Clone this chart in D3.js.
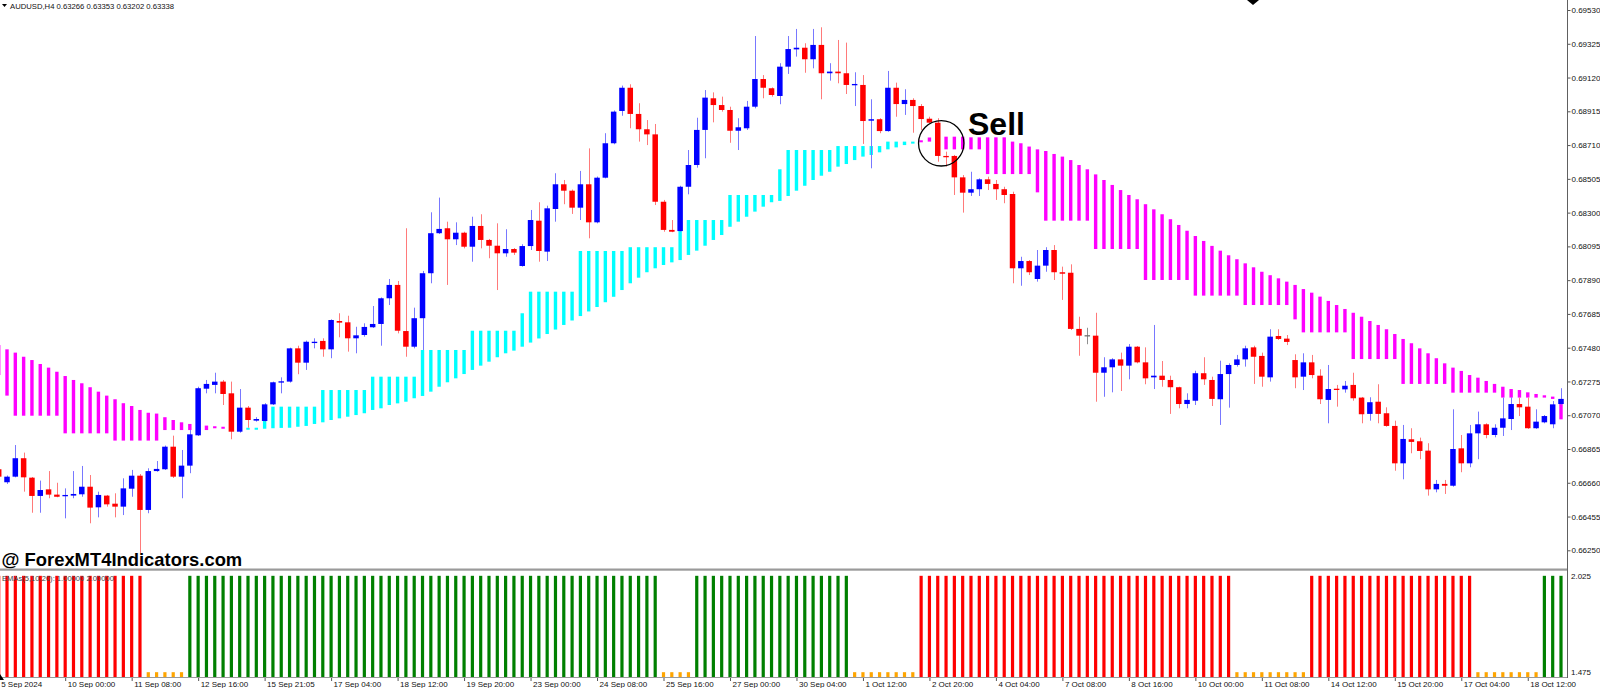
<!DOCTYPE html>
<html>
<head>
<meta charset="utf-8">
<script src="https://cdn.jsdelivr.net/npm/d3@7/dist/d3.min.js"></script>
<style>
  html, body { margin: 0; padding: 0; background: #fff; }
  svg { display: block; }
  text { font-family: "Liberation Sans", Arial, sans-serif; }
</style>
</head>
<body>
<svg id="chart"></svg>
<script>
// AUDUSD H4 candles (one entry per bar, left to right)
const open = [0.66742,0.66663,0.66697,0.66809,0.66691,0.66580,0.66620,0.66588,0.66578,0.66582,
  0.66590,0.66636,0.66511,0.66582,0.66533,0.66515,0.66624,0.66703,0.66495,0.66731,
  0.66742,0.66879,0.66697,0.66764,0.66948,0.67231,0.67254,0.67274,0.67203,0.66970,
  0.67116,0.67037,0.67035,0.67136,0.67268,0.67274,0.67476,0.67389,0.67510,0.67521,
  0.67470,0.67642,0.67634,0.67537,0.67557,0.67604,0.67624,0.67780,0.67861,0.67581,
  0.67486,0.67659,0.67932,0.68175,0.68205,0.68138,0.68178,0.68093,0.68219,0.68134,
  0.68099,0.68053,0.68079,0.67976,0.68097,0.68251,0.68063,0.68322,0.68472,0.68433,
  0.68330,0.68472,0.68241,0.68512,0.68721,0.68917,0.69058,0.68899,0.68806,0.68775,
  0.68366,0.68195,0.68188,0.68457,0.68589,0.68802,0.68994,0.68953,0.68923,0.68797,
  0.68812,0.68943,0.69111,0.69055,0.69008,0.69186,0.69291,0.69301,0.69231,0.69318,
  0.69146,0.69156,0.69146,0.69073,0.69075,0.68858,0.68867,0.68795,0.69058,0.68959,
  0.68984,0.68947,0.68870,0.68846,0.68644,0.68644,0.68514,0.68421,0.68442,0.68502,
  0.68474,0.68442,0.68413,0.67962,0.68006,0.67897,0.67978,0.68073,0.67938,0.67935,
  0.67594,0.67556,0.67553,0.67328,0.67361,0.67409,0.67371,0.67486,0.67391,0.67300,
  0.67310,0.67284,0.67240,0.67138,0.67158,0.67325,0.67284,0.67167,0.67320,0.67375,
  0.67409,0.67482,0.67430,0.67300,0.67551,0.67535,0.67405,0.67304,0.67391,0.67310,
  0.67163,0.67231,0.67227,0.67254,0.67177,0.67078,0.67152,0.67082,0.67005,0.66778,
  0.66924,0.66912,0.66855,0.66620,0.66653,0.66642,0.66869,0.66778,0.66960,0.67015,
  0.66950,0.66994,0.67047,0.67138,0.67122,0.66991,0.67027,0.67015,0.67138];

const high = [0.66756,0.66704,0.66889,0.66843,0.66695,0.66673,0.66731,0.66660,0.66626,0.66731,
  0.66762,0.66707,0.66606,0.66586,0.66596,0.66687,0.66738,0.66713,0.66748,0.66792,
  0.66886,0.66946,0.66859,0.66980,0.67243,0.67284,0.67328,0.67284,0.67274,0.67229,
  0.67126,0.67058,0.67143,0.67274,0.67300,0.67480,0.67492,0.67523,0.67537,0.67537,
  0.67652,0.67689,0.67674,0.67607,0.67628,0.67733,0.67785,0.67897,0.67885,0.68205,
  0.67723,0.67946,0.68302,0.68391,0.68245,0.68241,0.68184,0.68275,0.68290,0.68140,
  0.68235,0.68199,0.68085,0.68108,0.68316,0.68363,0.68342,0.68539,0.68498,0.68440,
  0.68553,0.68690,0.68519,0.68782,0.68920,0.69071,0.69079,0.68964,0.68862,0.68838,
  0.68377,0.68255,0.68463,0.68680,0.68876,0.69044,0.69030,0.69004,0.68943,0.68873,
  0.68978,0.69372,0.69135,0.69060,0.69207,0.69372,0.69415,0.69328,0.69415,0.69425,
  0.69207,0.69348,0.69332,0.69152,0.69135,0.68988,0.68873,0.69160,0.69089,0.69049,
  0.68994,0.68959,0.68882,0.68873,0.68670,0.68650,0.68528,0.68548,0.68508,0.68518,
  0.68498,0.68457,0.68427,0.68032,0.68012,0.68073,0.68090,0.68103,0.67972,0.67986,
  0.67668,0.67601,0.67692,0.67422,0.67416,0.67450,0.67502,0.67490,0.67482,0.67618,
  0.67399,0.67310,0.67243,0.67203,0.67340,0.67422,0.67304,0.67401,0.67385,0.67436,
  0.67492,0.67492,0.67450,0.67592,0.67592,0.67557,0.67440,0.67446,0.67436,0.67349,
  0.67375,0.67254,0.67278,0.67328,0.67181,0.67179,0.67258,0.67118,0.67037,0.67011,
  0.66991,0.66934,0.66900,0.66677,0.66677,0.67106,0.66950,0.67011,0.67092,0.67021,
  0.67015,0.67177,0.67179,0.67177,0.67177,0.67106,0.67071,0.67156,0.67234];

const low = [0.66689,0.66653,0.66693,0.66606,0.66478,0.66478,0.66566,0.66572,0.66444,0.66566,
  0.66575,0.66414,0.66450,0.66515,0.66450,0.66464,0.66575,0.66234,0.66475,0.66727,
  0.66738,0.66689,0.66566,0.66718,0.66944,0.67203,0.67203,0.67132,0.66924,0.66964,
  0.66994,0.67031,0.67031,0.67132,0.67203,0.67268,0.67319,0.67345,0.67476,0.67425,
  0.67416,0.67543,0.67456,0.67446,0.67547,0.67600,0.67492,0.67739,0.67567,0.67425,
  0.67476,0.67466,0.67871,0.68170,0.67861,0.68103,0.68083,0.68002,0.68083,0.68023,
  0.67830,0.68032,0.68043,0.67972,0.68073,0.68002,0.68006,0.68245,0.68351,0.68292,
  0.68255,0.68144,0.68235,0.68508,0.68715,0.68888,0.68812,0.68731,0.68710,0.68346,
  0.68184,0.68181,0.68184,0.68411,0.68573,0.68630,0.68848,0.68913,0.68724,0.68680,
  0.68802,0.68933,0.68994,0.69004,0.68958,0.69142,0.69247,0.69149,0.69176,0.68988,
  0.69101,0.69085,0.69020,0.68947,0.68717,0.68569,0.68782,0.68791,0.68882,0.68893,
  0.68785,0.68802,0.68841,0.68609,0.68579,0.68407,0.68300,0.68401,0.68401,0.68437,
  0.68377,0.68357,0.67871,0.67856,0.67921,0.67881,0.67941,0.67891,0.67770,0.67587,
  0.67431,0.67501,0.67152,0.67182,0.67209,0.67217,0.67288,0.67385,0.67258,0.67229,
  0.67243,0.67078,0.67112,0.67112,0.67132,0.67254,0.67126,0.67011,0.67116,0.67365,
  0.67365,0.67260,0.67243,0.67274,0.67527,0.67496,0.67234,0.67223,0.67294,0.67138,
  0.67021,0.67122,0.67207,0.67158,0.67021,0.67037,0.67021,0.67000,0.66733,0.66681,
  0.66839,0.66803,0.66582,0.66602,0.66592,0.66636,0.66724,0.66754,0.66803,0.66930,
  0.66936,0.66944,0.66980,0.67065,0.66987,0.66987,0.67021,0.66991,0.67134];

const close = [0.66697,0.66697,0.66809,0.66693,0.66580,0.66616,0.66588,0.66575,0.66586,0.66592,
  0.66636,0.66509,0.66586,0.66529,0.66515,0.66626,0.66703,0.66495,0.66731,0.66744,
  0.66879,0.66697,0.66764,0.66954,0.67234,0.67260,0.67274,0.67199,0.66970,0.67116,
  0.67041,0.67047,0.67136,0.67270,0.67276,0.67476,0.67389,0.67516,0.67516,0.67470,
  0.67648,0.67632,0.67537,0.67555,0.67606,0.67624,0.67780,0.67861,0.67583,0.67486,
  0.67659,0.67932,0.68175,0.68201,0.68138,0.68178,0.68093,0.68219,0.68134,0.68099,
  0.68053,0.68079,0.68057,0.68097,0.68255,0.68067,0.68326,0.68472,0.68433,0.68330,
  0.68472,0.68241,0.68512,0.68721,0.68913,0.69058,0.68899,0.68806,0.68775,0.68366,
  0.68195,0.68184,0.68457,0.68589,0.68802,0.68998,0.68953,0.68923,0.68797,0.68818,
  0.68943,0.69111,0.69058,0.69014,0.69186,0.69293,0.69301,0.69231,0.69318,0.69146,
  0.69156,0.69146,0.69075,0.69081,0.68856,0.68867,0.68795,0.69058,0.68959,0.68984,
  0.68947,0.68868,0.68846,0.68644,0.68638,0.68514,0.68421,0.68442,0.68502,0.68474,
  0.68442,0.68407,0.67962,0.68006,0.67938,0.67978,0.68073,0.67938,0.67929,0.67594,
  0.67553,0.67556,0.67328,0.67361,0.67409,0.67371,0.67486,0.67391,0.67294,0.67310,
  0.67284,0.67240,0.67138,0.67163,0.67325,0.67288,0.67169,0.67320,0.67375,0.67409,
  0.67476,0.67425,0.67304,0.67547,0.67533,0.67515,0.67300,0.67391,0.67314,0.67167,
  0.67229,0.67227,0.67249,0.67173,0.67076,0.67149,0.67078,0.67005,0.66778,0.66926,
  0.66908,0.66853,0.66620,0.66653,0.66642,0.66865,0.66778,0.66960,0.67015,0.66950,
  0.66994,0.67051,0.67138,0.67118,0.66991,0.67031,0.67065,0.67136,0.67169];

// overlay band: a smooth average and a daily step level, one value per bar
const emaLine = [0.67496,0.67470,0.67450,0.67425,0.67405,0.67381,0.67359,0.67334,0.67308,0.67284,
  0.67264,0.67240,0.67213,0.67189,0.67167,0.67143,0.67126,0.67102,0.67085,0.67080,
  0.67058,0.67041,0.67027,0.67017,0.67011,0.67007,0.67003,0.67000,0.66999,0.66997,
  0.66990,0.66987,0.66988,0.66991,0.66993,0.66994,0.67000,0.67005,0.67017,0.67027,
  0.67041,0.67051,0.67061,0.67071,0.67082,0.67102,0.67112,0.67132,0.67142,0.67152,
  0.67173,0.67187,0.67213,0.67243,0.67270,0.67294,0.67320,0.67345,0.67371,0.67395,
  0.67422,0.67446,0.67462,0.67486,0.67511,0.67536,0.67563,0.67590,0.67618,0.67645,
  0.67672,0.67700,0.67727,0.67756,0.67789,0.67830,0.67871,0.67905,0.67938,0.67962,
  0.67982,0.67998,0.68012,0.68043,0.68069,0.68099,0.68134,0.68164,0.68214,0.68245,
  0.68275,0.68306,0.68336,0.68363,0.68371,0.68401,0.68433,0.68463,0.68498,0.68524,
  0.68548,0.68579,0.68595,0.68619,0.68640,0.68650,0.68666,0.68684,0.68696,0.68710,
  0.68721,0.68739,0.68756,0.68761,0.68761,0.68761,0.68761,0.68757,0.68757,0.68757,
  0.68757,0.68757,0.68731,0.68721,0.68701,0.68684,0.68674,0.68656,0.68640,0.68619,
  0.68589,0.68563,0.68532,0.68498,0.68468,0.68437,0.68407,0.68381,0.68351,0.68320,
  0.68290,0.68260,0.68225,0.68190,0.68158,0.68128,0.68098,0.68069,0.68041,0.68017,
  0.67992,0.67968,0.67941,0.67920,0.67901,0.67881,0.67861,0.67836,0.67814,0.67790,
  0.67764,0.67739,0.67715,0.67692,0.67668,0.67642,0.67618,0.67592,0.67563,0.67533,
  0.67507,0.67476,0.67446,0.67416,0.67385,0.67359,0.67339,0.67314,0.67298,0.67278,
  0.67260,0.67243,0.67229,0.67223,0.67209,0.67199,0.67191,0.67183,0.67169];

const stepLine = [0.67314,0.67189,0.67067,0.67067,0.67067,0.67067,0.67067,0.67067,0.66960,0.66960,
  0.66960,0.66960,0.66960,0.66960,0.66916,0.66916,0.66916,0.66916,0.66916,0.66916,
  0.66980,0.66980,0.66980,0.66980,0.66980,0.66980,0.66994,0.66994,0.66994,0.66994,
  0.66994,0.66994,0.67035,0.67122,0.67122,0.67122,0.67122,0.67122,0.67122,0.67223,
  0.67223,0.67223,0.67223,0.67223,0.67223,0.67304,0.67304,0.67304,0.67304,0.67304,
  0.67304,0.67466,0.67466,0.67466,0.67466,0.67466,0.67466,0.67583,0.67583,0.67583,
  0.67583,0.67583,0.67583,0.67689,0.67820,0.67820,0.67820,0.67820,0.67820,0.67820,
  0.68067,0.68067,0.68067,0.68067,0.68067,0.68067,0.68090,0.68090,0.68090,0.68090,
  0.68090,0.68090,0.68255,0.68255,0.68255,0.68255,0.68255,0.68255,0.68407,0.68407,
  0.68407,0.68407,0.68407,0.68407,0.68563,0.68680,0.68680,0.68680,0.68680,0.68680,
  0.68680,0.68704,0.68704,0.68704,0.68704,0.68704,0.68704,0.68731,0.68731,0.68731,
  0.68731,0.68731,0.68731,0.68684,0.68684,0.68684,0.68684,0.68684,0.68684,0.68534,
  0.68534,0.68534,0.68534,0.68534,0.68534,0.68423,0.68251,0.68251,0.68251,0.68251,
  0.68251,0.68251,0.68079,0.68079,0.68079,0.68079,0.68079,0.68079,0.67891,0.67891,
  0.67891,0.67891,0.67891,0.67891,0.67796,0.67796,0.67796,0.67796,0.67796,0.67796,
  0.67739,0.67739,0.67739,0.67739,0.67739,0.67739,0.67652,0.67573,0.67573,0.67573,
  0.67573,0.67573,0.67573,0.67411,0.67411,0.67411,0.67411,0.67411,0.67411,0.67260,
  0.67260,0.67260,0.67260,0.67260,0.67260,0.67207,0.67207,0.67207,0.67207,0.67207,
  0.67207,0.67177,0.67177,0.67177,0.67177,0.67177,0.67177,0.67169,0.67045];

// lower window: d = down (red), u = up (green), n = neutral (orange)
const histCodes = [
  'dddddddddddddddddd', 'nnnnn',
  'uuuuuuuuuuuuuuuuuuuuuuuuuuuuuuuuuuuuuuuuuuuuuuuuuuuuuuuuu', 'nnnn',
  'uuuuuuuuuuuuuuuuuuu', 'nnnnnnnn',
  'dddddddddddddddddddddddddddddddddddddd', 'nnnnnnnnn',
  'dddddddddddddddddddd', 'nnnnnnnn', 'uuu'
].join('');

const priceTicks = [0.66250, 0.66455, 0.66660, 0.66865, 0.67070, 0.67275, 0.67480, 0.67685, 0.67890,
  0.68095, 0.68300, 0.68505, 0.68710, 0.68915, 0.69120, 0.69325, 0.69530];
const panelTicks = [2.025, 1.475];
const dateTickIndex = [0, 8, 16, 24, 32, 40, 48, 56, 64, 72, 80, 88, 96, 104, 112, 120, 128, 136,
  144, 152, 160, 168, 176, 184];
const dateTickLabels = ['5 Sep 2024', '10 Sep 00:00', '11 Sep 08:00', '12 Sep 16:00', '15 Sep 21:05',
  '17 Sep 04:00', '18 Sep 12:00', '19 Sep 20:00', '23 Sep 00:00', '24 Sep 08:00', '25 Sep 16:00',
  '27 Sep 00:00', '30 Sep 04:00', '1 Oct 12:00', '2 Oct 20:00', '4 Oct 04:00', '7 Oct 08:00',
  '8 Oct 16:00', '10 Oct 00:00', '11 Oct 08:00', '14 Oct 12:00', '15 Oct 20:00', '17 Oct 04:00',
  '18 Oct 12:00'];
const headerText = 'AUDUSD,H4  0.63266 0.63353 0.63202 0.63338';
const panelTitle = 'EMAs(5,10,20): 1.00000 2.00000';
const sellIndex = 113;

const width = 1600, height = 688;
const plotRight = 1567;
const mainBottom = 569, panelTop = 571, panelBottom = 677;
const labelFont = 8;

const svg = d3.select('#chart')
    .attr('width', width)
    .attr('height', height);

svg.append('rect')
    .attr('width', width)
    .attr('height', height)
    .attr('fill', '#fff');

let defs = svg.append('defs');
defs.append('clipPath').attr('id', 'clip-main')
  .append('rect').attr('x', 0).attr('y', 0).attr('width', plotRight).attr('height', mainBottom);
defs.append('clipPath').attr('id', 'clip-panel')
  .append('rect').attr('x', 0).attr('y', panelTop).attr('width', plotRight).attr('height', panelBottom - panelTop);

let x = d3.scaleLinear().domain([0, open.length - 1]).range([-1.3, 1561]),
    y = d3.scaleLinear().domain([0.66250, 0.69530]).range([550.3, 10]),
    yInd = d3.scaleLinear().domain([1.475, 2.025]).range([panelBottom, panelTop]);

let bars = open.map((o, i) => ({
  i: i, o: o, h: high[i], l: low[i], c: close[i],
  ema: emaLine[i], step: stepLine[i], code: histCodes[i]
}));

let candleColor = (d) => d.c > d.o ? '#0000ff' : (d.c < d.o ? '#ff0000' : '#707070');
let wickColor = (d) => d.c > d.o ? '#7878ff' : (d.c < d.o ? '#ff7a7a' : '#909090');

let main = svg.append('g').attr('clip-path', 'url(#clip-main)');

// band between the smooth line and the step level
main.selectAll('.band')
    .data(bars)
  .enter().append('rect')
    .attr('class', 'band')
    .attr('x', (d) => x(d.i) - 1.7)
    .attr('width', 3.4)
    .attr('y', (d) => y(Math.max(d.ema, d.step)))
    .attr('height', (d) => Math.max(2, Math.abs(y(d.ema) - y(d.step))))
    .attr('fill', (d) => d.ema > d.step ? '#ff00ff' : '#00ffff');

// candles
main.selectAll('.wick')
    .data(bars)
  .enter().append('line')
    .attr('class', 'wick')
    .attr('x1', (d) => Math.round(x(d.i)) + 0.5)
    .attr('x2', (d) => Math.round(x(d.i)) + 0.5)
    .attr('y1', (d) => y(d.h))
    .attr('y2', (d) => y(d.l))
    .attr('stroke', wickColor)
    .attr('stroke-width', 1);

main.selectAll('.body')
    .data(bars)
  .enter().append('rect')
    .attr('class', 'body')
    .attr('x', (d) => x(d.i) - 2.75)
    .attr('width', 5.5)
    .attr('y', (d) => y(Math.max(d.o, d.c)))
    .attr('height', (d) => Math.max(1.3, Math.abs(y(d.o) - y(d.c))))
    .attr('fill', candleColor);

// sell mark
let sellBar = bars[sellIndex];
svg.append('circle')
    .attr('cx', x(sellBar.i) + 3.5)
    .attr('cy', 143.3)
    .attr('r', 22.7)
    .attr('fill', 'none')
    .attr('stroke', '#000')
    .attr('stroke-width', 1.3);

svg.append('text')
    .attr('x', 968)
    .attr('y', 135)
    .attr('font-size', 32)
    .attr('font-weight', 'bold')
    .attr('fill', '#000')
    .text('Sell');

svg.append('polygon')
    .attr('points', '1247,0 1259,0 1253,5')
    .attr('fill', '#000');

svg.append('text')
    .attr('x', 1.5)
    .attr('y', 566)
    .attr('font-size', 18.4)
    .attr('font-weight', 'bold')
    .attr('fill', '#000')
    .text('@ ForexMT4Indicators.com');

// header
svg.append('polygon')
    .attr('points', '2,4 7,4 4.5,7')
    .attr('fill', '#000');
svg.append('text')
    .attr('x', 10)
    .attr('y', 8.6)
    .attr('font-size', 7.7)
    .attr('fill', '#111')
    .text(headerText);

// panel separator and frame
svg.append('rect')
    .attr('x', 0).attr('y', 568.5)
    .attr('width', plotRight).attr('height', 2.2)
    .attr('fill', '#9a9a9a');
svg.append('line')
    .attr('x1', 0).attr('x2', plotRight)
    .attr('y1', panelBottom + 0.5).attr('y2', panelBottom + 0.5)
    .attr('stroke', '#9a9a9a');

// lower window
let panel = svg.append('g').attr('clip-path', 'url(#clip-panel)');

panel.selectAll('.hist')
    .data(bars)
  .enter().append('rect')
    .attr('class', 'hist')
    .attr('x', (d) => x(d.i) - 1.6)
    .attr('width', 3.2)
    .attr('y', (d) => yInd(d.code === 'n' ? 1.5 : 2))
    .attr('height', (d) => panelBottom - yInd(d.code === 'n' ? 1.5 : 2))
    .attr('fill', (d) => d.code === 'u' ? '#008000' : (d.code === 'd' ? '#ff0000' : '#ffa500'));

panel.append('text')
    .attr('x', 2)
    .attr('y', 580.5)
    .attr('font-size', 7.6)
    .attr('fill', '#444')
    .text(panelTitle);

svg.append('polygon')
    .attr('points', '0,674 0,680 4,680')
    .attr('fill', '#000');

// price axis
let yAxis = svg.append('g')
    .attr('transform', 'translate(' + (plotRight + 0.5) + ',0)')
    .call(d3.axisRight(y).tickValues(priceTicks).tickFormat(d3.format('.5f')).tickSize(3).tickPadding(1));
yAxis.select('.domain').remove();
yAxis.selectAll('line').attr('stroke', '#555');
yAxis.selectAll('text')
    .attr('font-size', labelFont)
    .attr('font-family', '"Liberation Sans", Arial, sans-serif')
    .attr('fill', '#111');

svg.append('line')
    .attr('x1', plotRight + 0.5).attr('x2', plotRight + 0.5)
    .attr('y1', 0).attr('y2', panelBottom + 1)
    .attr('stroke', '#606060');

svg.selectAll('.panel-label')
    .data(panelTicks)
  .enter().append('text')
    .attr('class', 'panel-label')
    .attr('x', plotRight + 4)
    .attr('y', (d, k) => yInd(d) + (k === 0 ? 5 : -5))
    .attr('dy', '0.32em')
    .attr('font-size', labelFont)
    .attr('fill', '#111')
    .text((d) => d3.format('.3f')(d));

// time axis
let xAxis = svg.append('g')
    .attr('transform', 'translate(0,' + (panelBottom + 1) + ')')
    .call(d3.axisBottom(x).tickValues(dateTickIndex)
      .tickFormat((d, k) => dateTickLabels[k]).tickSize(3).tickPadding(0));
xAxis.select('.domain').remove();
xAxis.selectAll('line').attr('stroke', '#555');
xAxis.selectAll('text')
    .attr('text-anchor', 'start')
    .attr('x', 2)
    .attr('font-size', labelFont)
    .attr('font-family', '"Liberation Sans", Arial, sans-serif')
    .attr('fill', '#111');
</script>
</body>
</html>
